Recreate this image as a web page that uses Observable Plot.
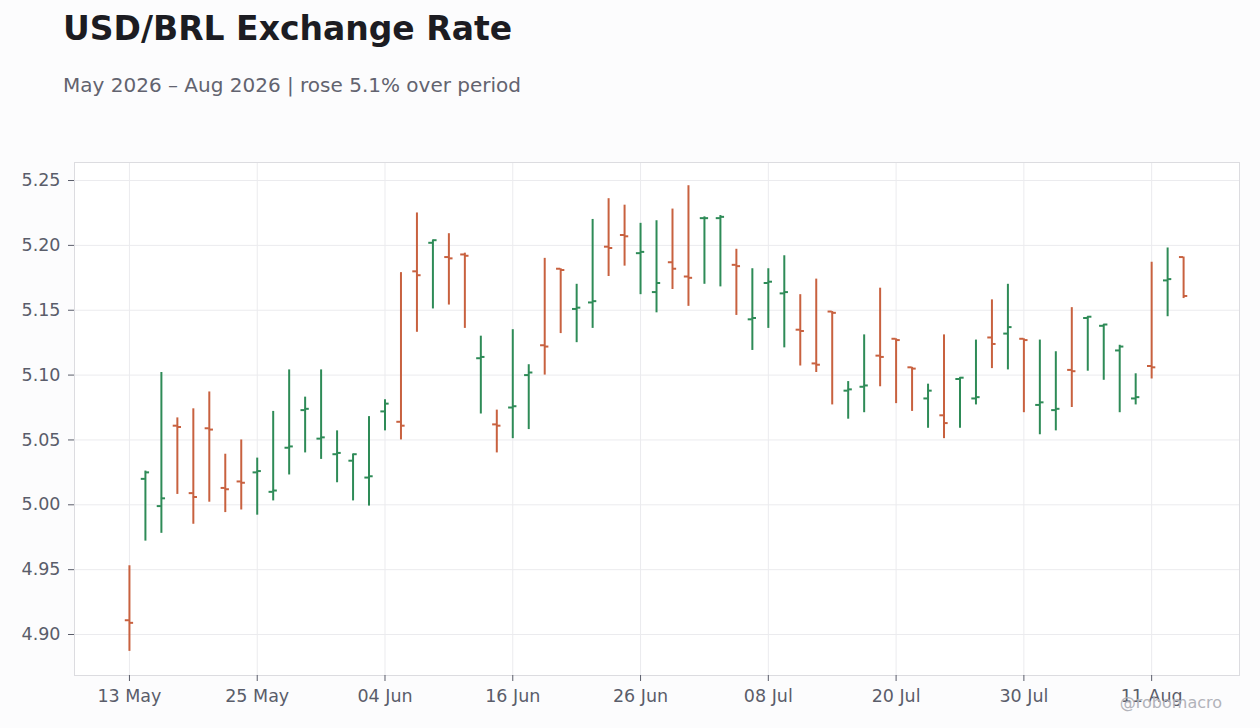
<!DOCTYPE html>
<html>
<head>
<meta charset="utf-8">
<script src="https://cdn.jsdelivr.net/npm/d3@7"></script>
<script src="https://cdn.jsdelivr.net/npm/@observablehq/plot@0.6"></script>
<style>
  html, body { margin: 0; padding: 0; background: #fcfcfd; }
  body { width: 1260px; height: 728px; position: relative; overflow: hidden; font-family: "DejaVu Sans", sans-serif; }
  #title { position: absolute; left: 63px; top: 12px; font-size: 33px; line-height: 33px; font-weight: bold; color: #1c1c22; white-space: nowrap; }
  #subtitle { position: absolute; left: 63px; top: 75px; font-size: 20px; line-height: 20px; color: #62636f; white-space: nowrap; }
  #chart { position: absolute; left: 0; top: 110px; }
  #caption { position: absolute; right: 38px; top: 695px; font-size: 16px; line-height: 16px; color: #b2b3ba; white-space: nowrap; }
</style>
</head>
<body>
<div id="title">USD/BRL Exchange Rate</div>
<div id="subtitle">May 2026 – Aug 2026 | rose 5.1% over period</div>
<div id="chart"></div>
<div id="caption">@robomacro</div>
<script>
const dates = [
  "2026-05-13","2026-05-14","2026-05-15","2026-05-18","2026-05-19","2026-05-20","2026-05-21","2026-05-22",
  "2026-05-25","2026-05-26","2026-05-27","2026-05-28","2026-05-29","2026-06-01","2026-06-02","2026-06-03",
  "2026-06-04","2026-06-05","2026-06-08","2026-06-09","2026-06-10","2026-06-11","2026-06-12","2026-06-15",
  "2026-06-16","2026-06-17","2026-06-18","2026-06-19","2026-06-22","2026-06-23","2026-06-24","2026-06-25",
  "2026-06-26","2026-06-29","2026-06-30","2026-07-01","2026-07-02","2026-07-03","2026-07-06","2026-07-07",
  "2026-07-08","2026-07-09","2026-07-10","2026-07-13","2026-07-14","2026-07-15","2026-07-16","2026-07-17",
  "2026-07-20","2026-07-21","2026-07-22","2026-07-23","2026-07-24","2026-07-27","2026-07-28","2026-07-29",
  "2026-07-30","2026-07-31","2026-08-03","2026-08-04","2026-08-05","2026-08-06","2026-08-07","2026-08-10",
  "2026-08-11","2026-08-12","2026-08-13"
];
const open = [
  4.911,5.020,4.999,5.061,5.009,5.059,5.013,5.018,
  5.025,5.010,5.044,5.073,5.051,5.039,5.034,5.021,
  5.072,5.064,5.180,5.202,5.191,5.193,5.113,5.062,
  5.075,5.100,5.123,5.182,5.151,5.156,5.199,5.208,
  5.194,5.164,5.187,5.176,5.221,5.221,5.185,5.143,
  5.171,5.163,5.135,5.109,5.149,5.088,5.091,5.115,
  5.128,5.106,5.082,5.069,5.097,5.082,5.129,5.132,
  5.128,5.077,5.073,5.104,5.144,5.138,5.119,5.082,
  5.107,5.173,5.191
];
const high = [
  4.953,5.026,5.102,5.067,5.074,5.087,5.039,5.050,
  5.036,5.072,5.104,5.083,5.104,5.057,5.039,5.068,
  5.081,5.179,5.225,5.204,5.209,5.194,5.130,5.073,
  5.135,5.108,5.190,5.182,5.170,5.220,5.236,5.231,
  5.217,5.219,5.228,5.246,5.222,5.223,5.197,5.182,
  5.182,5.192,5.162,5.174,5.149,5.095,5.131,5.167,
  5.128,5.106,5.093,5.131,5.098,5.127,5.158,5.170,
  5.128,5.127,5.118,5.152,5.145,5.139,5.123,5.101,
  5.187,5.198,5.191
];
const low = [
  4.887,4.972,4.978,5.008,4.985,5.002,4.994,4.996,
  4.992,5.003,5.023,5.040,5.035,5.017,5.003,4.999,
  5.057,5.050,5.133,5.151,5.154,5.136,5.070,5.040,
  5.051,5.058,5.100,5.132,5.125,5.136,5.176,5.184,
  5.162,5.148,5.166,5.153,5.170,5.168,5.146,5.119,
  5.136,5.121,5.107,5.102,5.077,5.066,5.071,5.091,
  5.078,5.072,5.059,5.051,5.059,5.077,5.105,5.104,
  5.071,5.054,5.057,5.075,5.103,5.096,5.071,5.077,
  5.097,5.145,5.159
];
const close = [
  4.909,5.025,5.005,5.060,5.006,5.058,5.012,5.017,
  5.026,5.011,5.045,5.074,5.052,5.040,5.039,5.022,
  5.078,5.061,5.177,5.204,5.190,5.192,5.114,5.061,
  5.076,5.102,5.122,5.181,5.152,5.157,5.198,5.207,
  5.195,5.171,5.182,5.175,5.221,5.222,5.184,5.144,
  5.172,5.164,5.134,5.108,5.148,5.089,5.092,5.114,
  5.127,5.105,5.088,5.063,5.098,5.083,5.124,5.137,
  5.127,5.079,5.074,5.103,5.145,5.139,5.122,5.083,
  5.106,5.174,5.161
];
const xTickLabels = ["13 May","25 May","04 Jun","16 Jun","26 Jun","08 Jul","20 Jul","30 Jul","11 Aug"];
const yTicks = [4.90, 4.95, 5.00, 5.05, 5.10, 5.15, 5.20, 5.25];

const upColor = "#2e8b57";
const downColor = "#c8613f";

const fmt = d3.utcFormat("%d %b");
const data = dates.map((d, i) => ({
  i, date: new Date(d), open: open[i], high: high[i], low: low[i], close: close[i]
}));
const labelOf = new Map(data.map(d => [fmt(d.date), d.i]));
const xTicks = xTickLabels.map(l => labelOf.get(l));
const colorOf = d => d.close >= d.open ? upColor : downColor;

const chart = Plot.plot({
  width: 1260,
  height: 618,
  marginTop: 52,
  marginRight: 21,
  marginBottom: 53,
  marginLeft: 74,
  style: { fontFamily: "DejaVu Sans", fontSize: "17.5px", color: "#5a5d6a", background: "transparent" },
  color: { type: "identity" },
  x: { domain: [-3.44, 69.5], label: null },
  y: { domain: [4.8684, 5.2639], label: null },
  marks: [
    Plot.frame({ fill: "white", stroke: null }),
    Plot.gridX(xTicks, { stroke: "#ebebee", strokeOpacity: 1 }),
    Plot.gridY(yTicks, { stroke: "#ebebee", strokeOpacity: 1 }),
    Plot.frame({ stroke: "#dcdce0" }),
    Plot.ruleX(data, { x: "i", y1: "low", y2: "high", stroke: colorOf, strokeWidth: 2 }),
    Plot.ruleY(data, { x1: d => d.i - 0.26, x2: "i", y: "open", stroke: colorOf, strokeWidth: 2 }),
    Plot.ruleY(data, { x1: "i", x2: d => d.i + 0.26, y: "close", stroke: colorOf, strokeWidth: 2 }),
    Plot.axisX(xTicks, { tickFormat: i => fmt(data[i].date), tickSize: 6, tickPadding: 8, label: null }),
    Plot.axisY(yTicks, { tickFormat: d3.format(".2f"), tickSize: 6, tickPadding: 8, label: null })
  ]
});
document.getElementById("chart").appendChild(chart);
</script>
</body>
</html>
